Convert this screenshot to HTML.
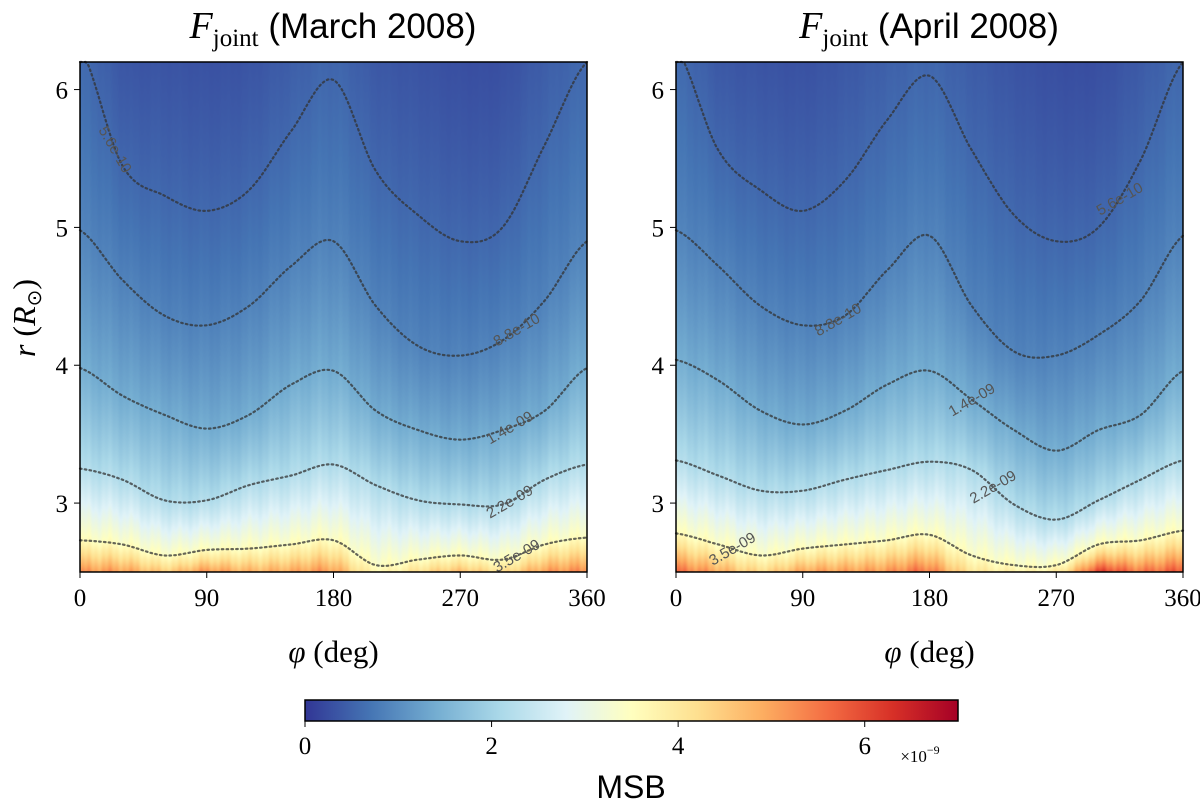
<!DOCTYPE html>
<html><head><meta charset="utf-8">
<style>
body{margin:0;background:#fff;width:1200px;height:805px;overflow:hidden;position:relative;font-family:"Liberation Serif",serif}
.abs{position:absolute}
.title{font-family:"Liberation Sans",sans-serif;font-size:35px;white-space:nowrap;transform:translateX(-50%)}
.title i{font-family:"Liberation Serif",serif;font-size:38px}
.title sub{font-family:"Liberation Serif",serif;font-size:25px}
canvas{position:absolute}
</style></head><body>
<svg id="svg" class="abs" style="left:0;top:0" width="1200" height="805"></svg>
<div class="abs title" style="left:333px;top:4px"><i>F</i><sub>joint</sub> (March 2008)</div>
<div class="abs title" style="left:929px;top:4px"><i>F</i><sub>joint</sub> (April 2008)</div>
<script>
const phis=[0,30,60,90,120,150,180,210,240,270,300,330,360];
const levels=[5.6e-10,8.8e-10,1.4e-9,2.2e-9,3.5e-9];
const levelLabels=["5.6e-10","8.8e-10","1.4e-09","2.2e-09","3.5e-09"];
const marchC0=[6.3,5.45,5.23,5.12,5.27,5.7,6.07,5.41,5.09,4.9,5.0,5.6,6.2];
const marchC1=[4.98,4.62,4.36,4.29,4.43,4.72,4.9,4.43,4.14,4.07,4.18,4.47,4.9];
const marchC2=[3.98,3.78,3.64,3.54,3.64,3.86,3.96,3.67,3.53,3.46,3.53,3.67,3.98];
const marchC3=[3.25,3.17,3.02,3.02,3.13,3.2,3.28,3.13,3.02,2.99,2.99,3.17,3.28];
const marchC4=[2.73,2.7,2.62,2.66,2.67,2.7,2.73,2.55,2.59,2.62,2.59,2.7,2.75];
const aprilC0=[6.3,5.56,5.27,5.12,5.34,5.78,6.1,5.56,5.09,4.9,5.0,5.49,6.2];
const aprilC1=[4.98,4.72,4.43,4.29,4.36,4.69,4.94,4.43,4.1,4.07,4.22,4.47,4.94];
const aprilC2=[4.04,3.89,3.67,3.57,3.67,3.86,3.96,3.75,3.53,3.38,3.53,3.64,3.96];
const aprilC3=[3.31,3.2,3.09,3.09,3.17,3.24,3.3,3.24,2.99,2.88,3.02,3.17,3.31];
const aprilC4=[2.78,2.7,2.62,2.67,2.7,2.73,2.77,2.62,2.55,2.55,2.7,2.73,2.8];
const xTicks=[0,90,180,270,360];
const yTicks=[3,4,5,6];
const cbTicks=[0,2,4,6];
const rMin=2.5,rMax=6.2,cMax=7e-9;
const cmapStops=["#313695","#4575b4","#74add1","#abd9e9","#e0f3f8","#ffffbf","#fee090","#fdae61","#f46d43","#d73027","#a50026"];

const NS="http://www.w3.org/2000/svg";
const svg=document.getElementById('svg');
function el(t,a,p){const e=document.createElementNS(NS,t);for(const k in a)e.setAttribute(k,a[k]);(p||svg).appendChild(e);return e;}
function hex(h){return [parseInt(h.slice(1,3),16),parseInt(h.slice(3,5),16),parseInt(h.slice(5,7),16)];}
const stopsRGB=cmapStops.map(hex);
function cmap(t){t=Math.max(0,Math.min(1,t));const f=t*10,i=Math.min(9,Math.floor(f)),u=f-i;const a=stopsRGB[i],b=stopsRGB[i+1];return [a[0]+(b[0]-a[0])*u,a[1]+(b[1]-a[1])*u,a[2]+(b[2]-a[2])*u];}
function interp(xs,ys,x){for(let i=0;i<xs.length-1;i++){if(x<=xs[i+1]){const u=(x-xs[i])/(xs[i+1]-xs[i]);return ys[i]+(ys[i+1]-ys[i])*u;}}return ys[ys.length-1];}
function smooth(xs,ys,x){const n=xs.length;let i=0;while(i<n-2&&x>xs[i+1])i++;const u=(x-xs[i])/(xs[i+1]-xs[i]);
  const p0=ys[Math.max(0,i-1)],p1=ys[i],p2=ys[i+1],p3=ys[Math.min(n-1,i+2)];
  const u2=u*u,u3=u2*u;return 0.5*((2*p1)+(-p0+p2)*u+(2*p0-5*p1+4*p2-p3)*u2+(-p0+3*p1-3*p2+p3)*u3);}

const W=507,H=510,TOP=62;
const panels=[{x0:80,name:'march',c:[marchC0,marchC1,marchC2,marchC3,marchC4]},{x0:676,name:'april',c:[aprilC0,aprilC1,aprilC2,aprilC3,aprilC4]}];
const logL=levels.map(Math.log);
panels.forEach((p,pi)=>{
  const xs=v=>p.x0+v/360*W;
  const ys=r=>TOP+(rMax-r)/(rMax-rMin)*H;
  const cv=document.createElement('canvas');cv.width=W;cv.height=H;cv.style.left=p.x0+'px';cv.style.top=TOP+'px';
  
  
  document.body.insertBefore(cv,svg);
  const ctx=cv.getContext('2d');const img=ctx.createImageData(W,H);
  for(let x=0;x<W;x++){
    const phi=(x+0.5)/W*360;
    const rs=p.c.map(a=>smooth(phis,a,phi));
    const rA=rs.slice().reverse(),lA=logL.slice().reverse();
    const stripe=Math.sin(x*0.9)*0.02+Math.sin(x*0.27)*0.03;
    for(let y=0;y<H;y++){
      const r=rMax-(y+0.5)/H*(rMax-rMin);
      let lv;
      if(r<=rA[0]){const s=(lA[1]-lA[0])/(rA[1]-rA[0]);lv=lA[0]+1.9*s*(r-rA[0]);}
      else if(r>=rA[4]){const s=(lA[4]-lA[3])/(rA[4]-rA[3]);lv=lA[4]+s*(r-rA[4]);}
      else lv=interp(rA,lA,r);
      const v=Math.min(Math.exp(lv+stripe),6.2e-9);
      const c=cmap(v/cMax);const k=(y*W+x)*4;
      img.data[k]=c[0];img.data[k+1]=c[1];img.data[k+2]=c[2];img.data[k+3]=255;
    }
  }
  ctx.putImageData(img,0,0);
  const g=el('g',{});
  
  
  p.c.forEach((arr,li)=>{
    let d='';for(let s=0;s<=180;s++){const phi=s*2;const r=Math.min(rMax,smooth(phis,arr,phi));d+=(s?'L':'M')+xs(phi).toFixed(1)+' '+ys(r).toFixed(1);}
    const path=el('path',{d:d,fill:'none',stroke:'#333','stroke-width':2.2,'stroke-dasharray':'1.6 3.2','stroke-linecap':'round',opacity:0.75},g);
    
    
    const lphi=pi===0?[25,310,305,305,310][li]:[315,115,210,225,40][li];
    const r=smooth(phis,arr,lphi);
    const t=el('text',{x:xs(lphi),y:ys(r)+5,'font-family':'Liberation Sans, sans-serif','font-size':15,fill:'#555','text-anchor':'middle',transform:`rotate(${pi===0&&li===0?60:-30} ${xs(lphi)} ${ys(r)})`},g);
    t.textContent=levelLabels[li];
    
    
  });
  const fr=el('rect',{x:p.x0,y:TOP,width:W,height:H,fill:'none',stroke:'#000','stroke-width':1.5});
  
  
  xTicks.forEach(v=>{el('line',{x1:xs(v),x2:xs(v),y1:TOP+H,y2:TOP+H+6,stroke:'#000'});
    const t=el('text',{x:xs(v),y:TOP+H+34,'font-size':25,'text-anchor':'middle','font-family':'Liberation Serif, serif'});t.textContent=v;
    
    });
  yTicks.forEach(v=>{el('line',{x1:p.x0-6,x2:p.x0,y1:ys(v),y2:ys(v),stroke:'#000'});
    const t=el('text',{x:p.x0-12,y:ys(v)+9,'font-size':25,'text-anchor':'end','font-family':'Liberation Serif, serif'});t.textContent=v;
    
    });
  const xl=el('text',{x:p.x0+W/2,y:662,'font-size':31,'text-anchor':'middle','font-family':'Liberation Serif, serif'});
  xl.innerHTML='<tspan font-style="italic">φ</tspan> (deg)';
  
  
});
const yl=el('text',{x:0,y:0,'font-size':32,'text-anchor':'middle','font-family':'Liberation Serif, serif',transform:'translate(35 318) rotate(-90)'});
yl.innerHTML='<tspan font-style="italic">r</tspan> (<tspan font-style="italic">R</tspan><tspan font-size="20" dy="6">⊙</tspan><tspan dy="-6">)</tspan>';


const cbx=305,cbw=653,cby=700,cbh=21;
const defs=el('defs',{});const lg=el('linearGradient',{id:'cg',x1:0,x2:1,y1:0,y2:0},defs);
cmapStops.forEach((c,i)=>el('stop',{offset:i/10,'stop-color':c},lg));
const cb=el('rect',{x:cbx,y:cby,width:cbw,height:cbh,fill:'url(#cg)',stroke:'#000','stroke-width':1.5});


cbTicks.forEach(v=>{const x=cbx+v*1e-9/cMax*cbw;el('line',{x1:x,x2:x,y1:cby+cbh,y2:cby+cbh+6,stroke:'#000'});
  const t=el('text',{x:x,y:cby+cbh+33,'font-size':25,'text-anchor':'middle','font-family':'Liberation Serif, serif'});t.textContent=v;
  
  });
const ex=el('text',{x:920,y:762,'font-size':17,'text-anchor':'middle','font-family':'Liberation Serif, serif'});
ex.innerHTML='×10<tspan font-size="12" dy="-8">−9</tspan>';


const ml=el('text',{x:631,y:798,'font-size':32,'text-anchor':'middle','font-family':'Liberation Sans, sans-serif'});ml.textContent='MSB';


</script>
</body></html>
